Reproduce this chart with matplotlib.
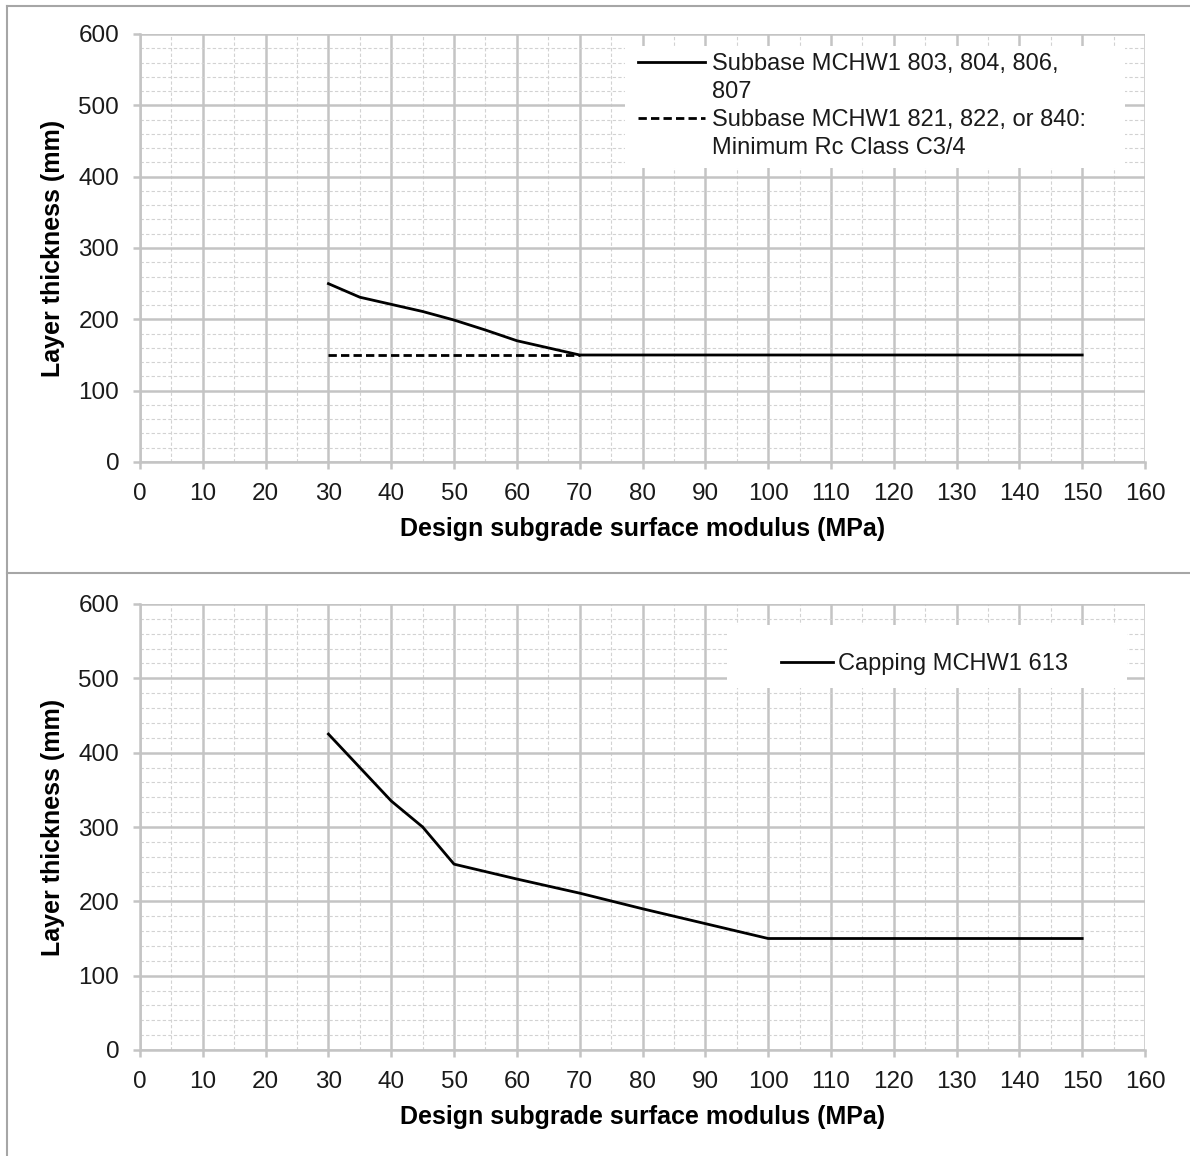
#!/usr/bin/env python

'''Minimum layer thickness against design subgrade surface modulus'''

from matplotlib.pyplot import figure, rcParams
from matplotlib.lines import Line2D
from matplotlib.patches import Rectangle
from matplotlib.ticker import MultipleLocator
import numpy as np

rcParams['font.family'] = ['Liberation Sans', 'DejaVu Sans']

# Subbase chart
subbase_E     = [30, 35, 40, 45, 50, 55, 60, 65, 70, 150]
subbase_h     = [250, 231, 221, 211, 199, 185, 170, 160, 150, 150]
subbase_label = ['Subbase MCHW1 803, 804, 806,', '807']

bound_E     = [30, 70]
bound_h     = [150, 150]
bound_label = ['Subbase MCHW1 821, 822, or 840:', 'Minimum Rc Class C3/4']

# Capping chart
capping_E     = [30, 35, 40, 45, 50, 60, 70, 80, 90, 100, 150]
capping_h     = [425, 380, 335, 300, 250, 230, 211, 190, 170, 150, 150]
capping_label = ['Capping MCHW1 613']

x_label = 'Design subgrade surface modulus (MPa)'
y_label = 'Layer thickness (mm)'

GRID  = '#c4c4c4'
MINOR = '#d2d2d2'
FRAME = '#a6a6a6'
FS    = 17
FS_T  = 17.5
FS_L  = 18

def style(ax):
    ax.set_xlim(0, 160)
    ax.set_ylim(0, 600)
    ax.xaxis.set_major_locator(MultipleLocator(10))
    ax.xaxis.set_minor_locator(MultipleLocator(5))
    ax.yaxis.set_major_locator(MultipleLocator(100))
    ax.yaxis.set_minor_locator(MultipleLocator(20))
    ax.set_axisbelow(True)
    ax.grid(which='major', color=GRID, linewidth=1.8)
    ax.grid(which='minor', color=MINOR, linewidth=0.8, linestyle=(0, (3, 2)))
    for side in ['top', 'right']:
        ax.spines[side].set_visible(False)
    for side in ['left', 'bottom']:
        ax.spines[side].set_color(GRID)
        ax.spines[side].set_linewidth(1.8)
    ax.tick_params(which='major', direction='out', length=5, width=1.8,
                   color=GRID, labelsize=FS_T, pad=10, labelcolor='#1a1a1a')
    ax.tick_params(which='minor', length=0)
    ax.set_xlabel(x_label, fontsize=FS_L, fontweight='bold', labelpad=9)
    ax.set_ylabel(y_label, fontsize=FS_L, fontweight='bold', labelpad=10)

def legend(ax, box, anchor, lines, labels, handlelength, textpad):
    # white area behind the legend, as in the spreadsheet chart
    ax.add_patch(Rectangle(box[:2], box[2], box[3], transform=ax.transAxes,
                           facecolor='white', edgecolor='none', zorder=1.5))
    handles = []
    for line, label in zip(lines, labels):
        handles.append(line)
        for extra in label[1:]:
            handles.append(Line2D([], [], color='none'))
    texts = [t for label in labels for t in label]
    leg = ax.legend(handles, texts, loc='upper left', bbox_to_anchor=anchor,
                    fontsize=FS, frameon=False, handlelength=handlelength,
                    handletextpad=textpad, borderpad=0, borderaxespad=0,
                    labelspacing=0.25)
    for text in leg.get_texts():
        text.set_color('#1a1a1a')
    return leg

if __name__=='__main__':
    fig = figure(figsize=(11.9, 11.56), dpi=100)

    W, H = 1190, 1156
    for x0, y0, x1, y1 in [(7, 6, W, 6), (7, 6, 7, H), (7, 573, W, 573)]:
        fig.add_artist(Line2D([x0/W, x1/W], [1 - y0/H, 1 - y1/H],
                              color=FRAME, linewidth=1.5))

    ax1 = fig.add_axes([140/W, 1 - 462/H, 1005/W, 428/H])
    style(ax1)
    solid, = ax1.plot(subbase_E, subbase_h, color='black', linewidth=2.0)
    dashed, = ax1.plot(bound_E, bound_h, color='black', linewidth=2.0,
                       linestyle=(0, (3, 1.5)))
    legend(ax1, (0.4826, 0.687, 0.4975, 0.285), (0.4955, 0.955),
           [solid, dashed], [subbase_label, bound_label], 2.84, 0.3)

    ax2 = fig.add_axes([140/W, 1 - 1050/H, 1005/W, 446/H])
    style(ax2)
    cap, = ax2.plot(capping_E, capping_h, color='black', linewidth=2.0)
    legend(ax2, (0.584, 0.812, 0.398, 0.141), (0.638, 0.89),
           [cap], [capping_label], 2.2, 0.2)

    fig.savefig('out.png', dpi=100)
